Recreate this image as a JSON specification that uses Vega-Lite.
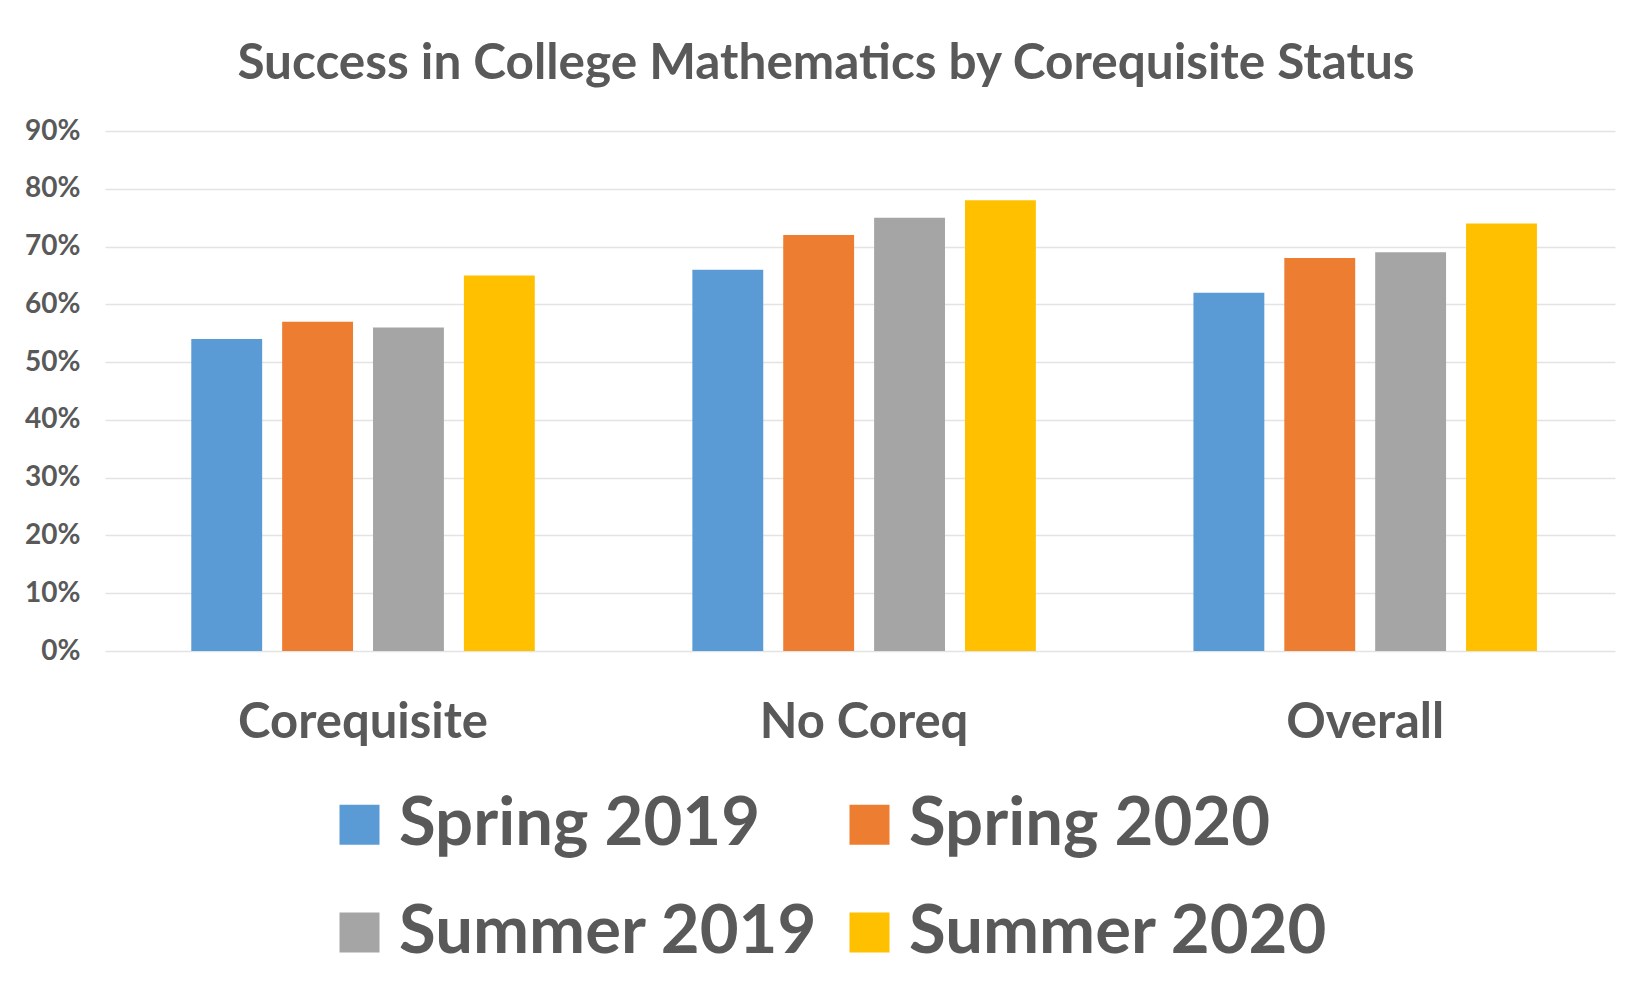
{
  "$schema": "https://vega.github.io/schema/vega-lite/v6.json",
  "width": 1510,
  "height": 520,
  "autosize": {"type": "none"},
  "padding": {"left": 105, "top": 131, "right": 30, "bottom": 338},
  "background": "white",
  "title": {
    "text": "Success in College Mathematics by Corequisite Status",
    "font": "Lato",
    "fontSize": 49.5,
    "fontWeight": "bold",
    "color": "#595959",
    "anchor": "middle",
    "dx": -34,
    "offset": 28
  },
  "data": {
    "values": [
      {"group": "Corequisite", "term": "Spring 2019", "rate": 0.54},
      {"group": "Corequisite", "term": "Spring 2020", "rate": 0.57},
      {"group": "Corequisite", "term": "Summer 2019", "rate": 0.56},
      {"group": "Corequisite", "term": "Summer 2020", "rate": 0.65},
      {"group": "No Coreq", "term": "Spring 2019", "rate": 0.66},
      {"group": "No Coreq", "term": "Spring 2020", "rate": 0.72},
      {"group": "No Coreq", "term": "Summer 2019", "rate": 0.75},
      {"group": "No Coreq", "term": "Summer 2020", "rate": 0.78},
      {"group": "Overall", "term": "Spring 2019", "rate": 0.62},
      {"group": "Overall", "term": "Spring 2020", "rate": 0.68},
      {"group": "Overall", "term": "Summer 2019", "rate": 0.69},
      {"group": "Overall", "term": "Summer 2020", "rate": 0.74}
    ]
  },
  "mark": {"type": "bar"},
  "encoding": {
    "x": {
      "field": "group",
      "type": "nominal",
      "sort": ["Corequisite", "No Coreq", "Overall"],
      "scale": {"paddingInner": 0.3145, "paddingOuter": 0.164, "align": 0.525},
      "axis": {
        "title": null,
        "labelAngle": 0,
        "labelFont": "Lato",
        "labelFontSize": 49,
        "labelFontWeight": "bold",
        "labelColor": "#595959",
        "labelPadding": 47,
        "labelLimit": 0,
        "domain": false,
        "ticks": false,
        "grid": false
      }
    },
    "xOffset": {
      "field": "term",
      "type": "nominal",
      "sort": ["Spring 2019", "Spring 2020", "Summer 2019", "Summer 2020"],
      "scale": {"paddingInner": 0.22, "paddingOuter": 0}
    },
    "y": {
      "field": "rate",
      "type": "quantitative",
      "scale": {"domain": [0, 0.9], "nice": false},
      "axis": {
        "title": null,
        "format": ".0%",
        "values": [0, 0.1, 0.2, 0.3, 0.4, 0.5, 0.6, 0.7, 0.8, 0.9],
        "labelFont": "Lato",
        "labelFontSize": 28,
        "labelFontWeight": "bold",
        "labelColor": "#595959",
        "labelPadding": 25,
        "domain": false,
        "ticks": false,
        "grid": true,
        "gridColor": "#e3e3e3",
        "gridWidth": 1.5
      }
    },
    "color": {
      "field": "term",
      "type": "nominal",
      "sort": ["Spring 2019", "Spring 2020", "Summer 2019", "Summer 2020"],
      "scale": {
        "domain": ["Spring 2019", "Spring 2020", "Summer 2019", "Summer 2020"],
        "range": ["#5B9BD5", "#ED7D31", "#A5A5A5", "#FFC000"]
      },
      "legend": {
        "title": null,
        "orient": "none",
        "legendX": 221,
        "legendY": 660,
        "direction": "horizontal",
        "columns": 2,
        "padding": 0,
        "symbolType": "square",
        "symbolSize": 1600,
        "symbolStrokeWidth": 0,
        "symbolOpacity": 1,
        "labelFont": "Lato",
        "labelFontSize": 67,
        "labelFontWeight": "bold",
        "labelColor": "#595959",
        "labelOffset": 6,
        "labelLimit": 0,
        "columnPadding": 18,
        "rowPadding": 40
      }
    }
  },
  "config": {
    "view": {"stroke": null}
  }
}
